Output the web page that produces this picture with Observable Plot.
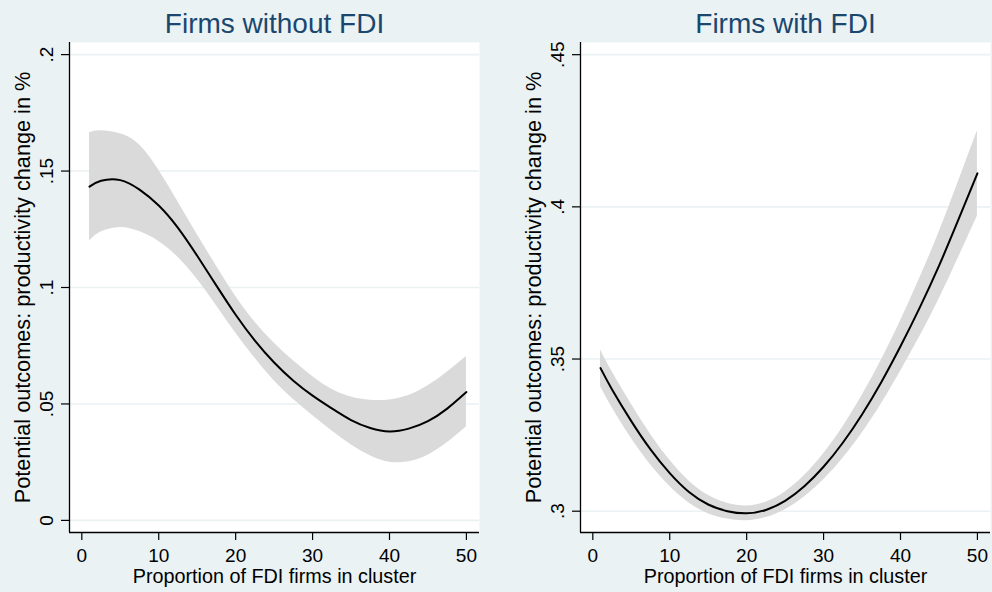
<!DOCTYPE html>
<html>
<head>
<meta charset="utf-8">
<script src="https://cdn.jsdelivr.net/npm/d3@7"></script>
<script src="https://cdn.jsdelivr.net/npm/@observablehq/plot@0.6"></script>
<style>
  html, body { margin: 0; padding: 0; background: #EAF2F3; }
  #wrap { position: relative; width: 992px; height: 592px; overflow: hidden; background: #EAF2F3; }
  .panel { position: absolute; top: 0; }
</style>
</head>
<body>
<div id="wrap">
  <div class="panel" id="left" style="left:0px"></div>
  <div class="panel" id="right" style="left:496px"></div>
</div>
<script>
// ---- Data ----
const xs = [1, 2.5, 5, 7.5, 10, 12.5, 15, 17.5, 20, 22.5, 25, 27.5, 30, 32.5, 35, 37.5, 40, 42.5, 45, 47.5, 50];

// Firms without FDI
const noFdiMean  = [0.1433, 0.1458, 0.1461, 0.1420, 0.1352, 0.1256, 0.1136, 0.1008, 0.0883, 0.0772, 0.0678, 0.0600, 0.0536, 0.0481, 0.0431, 0.0397, 0.0382, 0.0394, 0.0426, 0.0480, 0.0551];
const noFdiUpper = [0.1665, 0.1673, 0.1660, 0.1612, 0.1505, 0.1368, 0.1228, 0.1092, 0.0962, 0.0852, 0.0762, 0.0685, 0.0618, 0.0563, 0.0530, 0.0516, 0.0517, 0.0536, 0.0578, 0.0636, 0.0704];
const noFdiLower = [0.1200, 0.1238, 0.1258, 0.1240, 0.1198, 0.1130, 0.1035, 0.0922, 0.0805, 0.0697, 0.0600, 0.0520, 0.0450, 0.0385, 0.0325, 0.0278, 0.0250, 0.0252, 0.0280, 0.0333, 0.0402];

// Firms with FDI
const fdiMean  = [0.3470, 0.3400, 0.3296, 0.3203, 0.3125, 0.3063, 0.3022, 0.3000, 0.2993, 0.3004, 0.3034, 0.3082, 0.3146, 0.3225, 0.3318, 0.3424, 0.3542, 0.3669, 0.3806, 0.3956, 0.4110];
const fdiUpper = [0.3530, 0.3459, 0.3352, 0.3253, 0.3168, 0.3099, 0.3052, 0.3026, 0.3017, 0.3029, 0.3063, 0.3117, 0.3189, 0.3277, 0.3380, 0.3496, 0.3625, 0.3765, 0.3916, 0.4081, 0.4250];
const fdiLower = [0.3410, 0.3341, 0.3240, 0.3153, 0.3082, 0.3027, 0.2992, 0.2974, 0.2969, 0.2979, 0.3005, 0.3047, 0.3103, 0.3173, 0.3256, 0.3352, 0.3459, 0.3573, 0.3696, 0.3831, 0.3970];

const xTicks = [0, 10, 20, 30, 40, 50];
const noFdiYTicks = [0, 0.05, 0.1, 0.15, 0.2];
const noFdiYLabels = ["0", ".05", ".1", ".15", ".2"];
const fdiYTicks = [0.3, 0.35, 0.4, 0.45];
const fdiYLabels = [".3", ".35", ".4", ".45"];

const titles = ["Firms without FDI", "Firms with FDI"];
const xTitle = "Proportion of FDI firms in cluster";
const yTitle = "Potential outcomes: productivity change in %";

const xDomain = [-1.6, 51.7];
const noFdiYDomain = [-0.0052, 0.2052];
const fdiYDomain = [0.293, 0.454];

const FONT = "'Liberation Sans', Arial, Helvetica, sans-serif";

function panel({title, mean, upper, lower, yDomain, yTicks, yLabels, marginLeft, marginRight}) {
  const rows = xs.map((x, i) => ({x, mean: mean[i], hi: upper[i], lo: lower[i]}));
  const tickRows = yTicks.map((v, i) => ({v, label: yLabels[i]}));
  return Plot.plot({
    width: 496,
    height: 592,
    marginLeft,
    marginRight,
    marginTop: 42,
    marginBottom: 60,
    x: {domain: xDomain},
    y: {domain: yDomain},
    style: {background: "transparent", fontFamily: FONT, color: "black", overflow: "visible"},
    marks: [
      Plot.frame({fill: "white", stroke: "none"}),
      Plot.ruleY(yTicks, {stroke: "#EAF2F3", strokeWidth: 1.6}),
      Plot.areaY(rows, {x: "x", y1: "lo", y2: "hi", fill: "#DADADA", curve: "natural"}),
      Plot.line(rows, {x: "x", y: "mean", stroke: "black", strokeWidth: 2, curve: "natural"}),
      Plot.ruleX([xDomain[0]], {stroke: "black", strokeWidth: 1.3}),
      Plot.ruleY([yDomain[0]], {stroke: "black", strokeWidth: 1.3}),
      Plot.axisX(xTicks, {tickSize: 8, tickPadding: 8, fontSize: 19, label: null, tickFormat: d => String(d), strokeWidth: 1.2}),
      Plot.axisY(yTicks, {tickSize: 8, tickFormat: () => "", label: null, strokeWidth: 1.2}),
      Plot.text(tickRows, {y: "v", text: "label", frameAnchor: "left", dx: -17, rotate: -90, lineAnchor: "bottom", textAnchor: "middle", fontSize: 19, fill: "black"}),
      Plot.text([yTitle], {text: d => d, frameAnchor: "left", dx: -39.5, rotate: -90, lineAnchor: "bottom", textAnchor: "middle", fontSize: 21.7, fill: "black"}),
      Plot.text([xTitle], {text: d => d, frameAnchor: "bottom", dy: 50, lineAnchor: "bottom", textAnchor: "middle", fontSize: 19.8, fill: "black"}),
      Plot.text([title], {text: d => d, frameAnchor: "top", dy: -10, lineAnchor: "bottom", textAnchor: "middle", fontSize: 28, fill: "#1A476F"})
    ]
  });
}

document.getElementById("left").appendChild(panel({
  title: titles[0], mean: noFdiMean, upper: noFdiUpper, lower: noFdiLower,
  yDomain: noFdiYDomain, yTicks: noFdiYTicks, yLabels: noFdiYLabels,
  marginLeft: 69, marginRight: 17
}));
document.getElementById("right").appendChild(panel({
  title: titles[1], mean: fdiMean, upper: fdiUpper, lower: fdiLower,
  yDomain: fdiYDomain, yTicks: fdiYTicks, yLabels: fdiYLabels,
  marginLeft: 84, marginRight: 2
}));
</script>
</body>
</html>
